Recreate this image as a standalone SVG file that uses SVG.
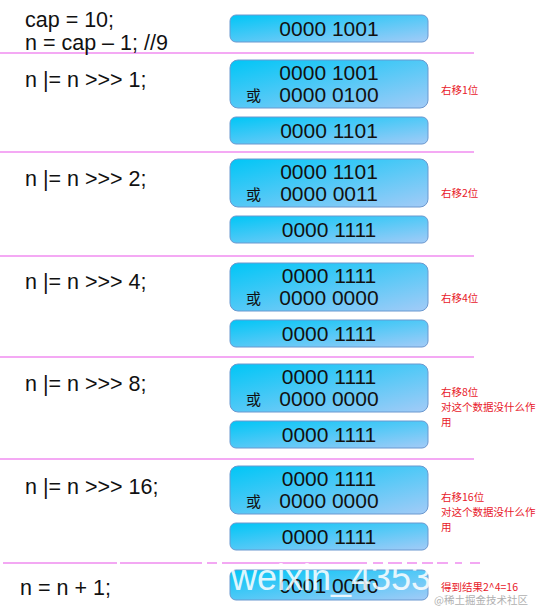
<svg xmlns="http://www.w3.org/2000/svg" width="540" height="607" viewBox="0 0 540 607">
<defs>
<linearGradient id="g" x1="0" y1="0" x2="1" y2="1">
<stop offset="0" stop-color="#00c6f6"/>
<stop offset="1" stop-color="#a3cbf7"/>
</linearGradient>
<style>
.box{fill:url(#g);stroke:#6b98cf;stroke-width:1}
.bt{font-family:"Liberation Sans",Arial,sans-serif;font-size:21px;fill:#111;text-anchor:middle}
.or{font-family:"Noto Sans CJK SC",sans-serif;font-size:15px;fill:#111}
.code{font-family:"Liberation Sans",Arial,sans-serif;font-size:21.5px;fill:#111}
.note{font-family:"Noto Sans CJK SC",sans-serif;font-size:10.5px;fill:#e8202a}
.sep{stroke:#f08cf0;stroke-width:1.5;fill:none}
</style>
</defs>
<rect width="540" height="607" fill="#fff"/>
<g id="separators">
<line class="sep" x1="0" y1="53" x2="474" y2="53"/>
<line class="sep" x1="0" y1="152" x2="474" y2="152"/>
<line class="sep" x1="0" y1="256" x2="474" y2="256"/>
<line class="sep" x1="0" y1="357" x2="474" y2="357"/>
<line class="sep" x1="0" y1="459" x2="474" y2="459"/>
<path class="sep" d="M3 563H117M120 563H202M207 563H217M222 563H367M373 563H383M388 563H402M407 563H417M422 563H433M437 563H448M455 563H462M470 563H480"/>
</g>
<g id="labels">
<text class="code" x="25" y="27">cap = 10;</text>
<text class="code" x="25" y="50">n = cap – 1; //9</text>
<text class="code" x="25" y="87">n |= n &gt;&gt;&gt; 1;</text>
<text class="code" x="25" y="186">n |= n &gt;&gt;&gt; 2;</text>
<text class="code" x="25" y="289">n |= n &gt;&gt;&gt; 4;</text>
<text class="code" x="25" y="391">n |= n &gt;&gt;&gt; 8;</text>
<text class="code" x="25" y="494">n |= n &gt;&gt;&gt; 16;</text>
<text class="code" x="20" y="595">n = n + 1;</text>
</g>
<g id="node0">
<rect class="box" x="230" y="15" width="198" height="27" rx="6"/>
<text class="bt" x="329" y="36">0000 1001</text>
</g>
<g id="step1">
<rect class="box" x="230" y="60" width="198" height="48" rx="8"/>
<text class="bt" x="329" y="80">0000 1001</text>
<text class="or" x="246" y="101">或</text>
<text class="bt" x="329" y="102">0000 0100</text>
<rect class="box" x="230" y="117" width="198" height="27" rx="6"/>
<text class="bt" x="329" y="138">0000 1101</text>
<text class="note" x="441" y="94">右移1位</text>
</g>
<g id="step2">
<rect class="box" x="230" y="159" width="198" height="48" rx="8"/>
<text class="bt" x="329" y="179">0000 1101</text>
<text class="or" x="246" y="200">或</text>
<text class="bt" x="329" y="201">0000 0011</text>
<rect class="box" x="230" y="216" width="198" height="27" rx="6"/>
<text class="bt" x="329" y="237">0000 1111</text>
<text class="note" x="441" y="197">右移2位</text>
</g>
<g id="step4">
<rect class="box" x="230" y="263" width="198" height="48" rx="8"/>
<text class="bt" x="329" y="283">0000 1111</text>
<text class="or" x="246" y="304">或</text>
<text class="bt" x="329" y="305">0000 0000</text>
<rect class="box" x="230" y="320" width="198" height="27" rx="6"/>
<text class="bt" x="329" y="341">0000 1111</text>
<text class="note" x="441" y="302">右移4位</text>
</g>
<g id="step8">
<rect class="box" x="230" y="364" width="198" height="48" rx="8"/>
<text class="bt" x="329" y="384">0000 1111</text>
<text class="or" x="246" y="405">或</text>
<text class="bt" x="329" y="406">0000 0000</text>
<rect class="box" x="230" y="421" width="198" height="27" rx="6"/>
<text class="bt" x="329" y="442">0000 1111</text>
<text class="note" x="441" y="396">右移8位</text>
<text class="note" x="441" y="411">对这个数据没什么作</text>
<text class="note" x="441" y="426">用</text>
</g>
<g id="step16">
<rect class="box" x="230" y="466" width="198" height="48" rx="8"/>
<text class="bt" x="329" y="486">0000 1111</text>
<text class="or" x="246" y="507">或</text>
<text class="bt" x="329" y="508">0000 0000</text>
<rect class="box" x="230" y="523" width="198" height="27" rx="6"/>
<text class="bt" x="329" y="544">0000 1111</text>
<text class="note" x="441" y="501">右移16位</text>
<text class="note" x="441" y="516">对这个数据没什么作</text>
<text class="note" x="441" y="531">用</text>
</g>
<g id="final">
<rect class="box" x="230" y="570" width="198" height="30" rx="6"/>
<text class="bt" x="329" y="593">0001 0000</text>
<text class="note" x="441" y="591">得到结果2^4=16</text>
</g>
<g id="watermark">
<text x="231" y="590" font-family="'Liberation Sans',Arial,sans-serif" font-size="36" fill="#fff" opacity="0.85">weixin_4353</text>
<text x="434" y="604" font-family="'Noto Sans CJK SC',sans-serif" font-size="10.5" fill="#b0b0b0">@稀土掘金技术社区</text>
</g>
</svg>
